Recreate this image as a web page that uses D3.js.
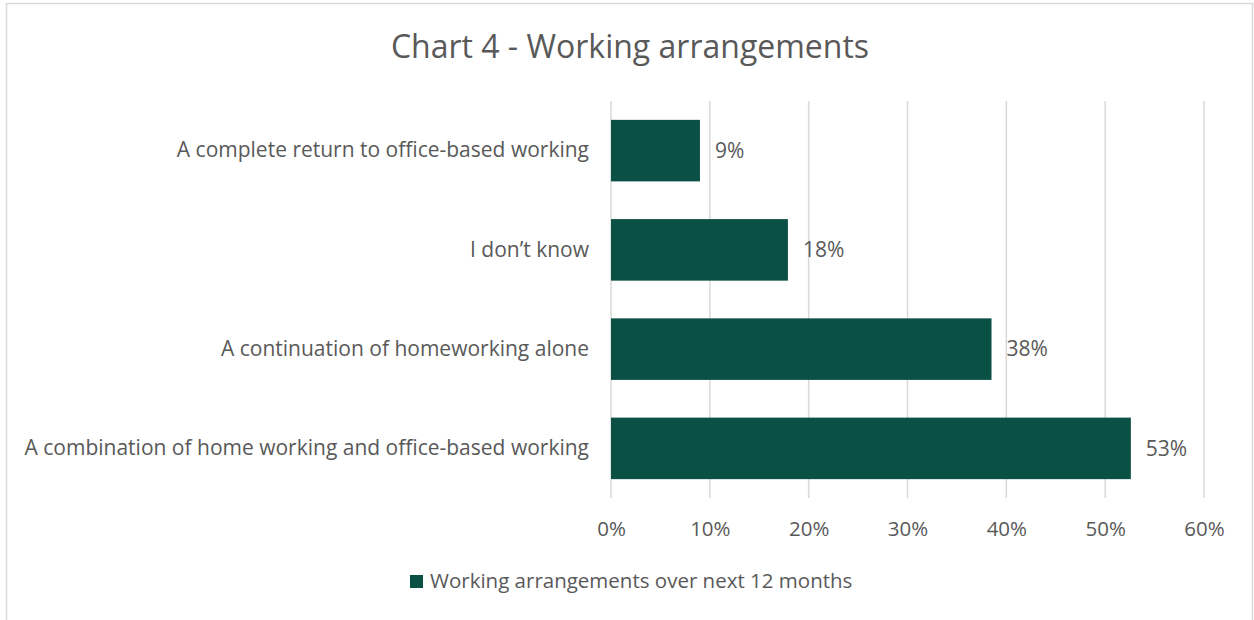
<!DOCTYPE html>
<html>
<head>
<meta charset="utf-8">
<script src="https://cdn.jsdelivr.net/npm/d3@7"></script>
<style>
  body { margin: 0; background: #fff; }
  text { font-family: "Open Sans", sans-serif; fill: #595959; }
</style>
</head>
<body>
<div id="chart"></div>
<script>
// chart data
var categories = [
  "A complete return to office-based working",
  "I don\u2019t know",
  "A continuation of homeworking alone",
  "A combination of home working and office-based working"
];
var values = [0.09, 0.179, 0.385, 0.526];
var valueLabels = ["9%", "18%", "38%", "53%"];
var xTicks = [0, 0.1, 0.2, 0.3, 0.4, 0.5, 0.6];
var seriesName = "Working arrangements over next 12 months";
var chartTitle = "Chart 4 - Working arrangements";

var svgWidth = 1254;
var svgHeight = 620;
var margin = { top: 101, right: 50, bottom: 122, left: 611 };
var width = 1204 - margin.left;
var height = 498 - margin.top;
var barColor = "#0b5045";

var svg = d3.select("#chart")
  .append("svg")
  .attr("width", svgWidth)
  .attr("height", svgHeight);

// outer frame
svg.append("rect")
  .attr("x", 6.5)
  .attr("y", 3.5)
  .attr("width", 1246)
  .attr("height", 640)
  .attr("fill", "none")
  .attr("stroke", "#d9d9d9")
  .attr("stroke-width", 1.5);

svg.append("text")
  .attr("x", 630)
  .attr("y", 58)
  .attr("text-anchor", "middle")
  .style("font-size", "32px")
  .text(chartTitle);

var chartGroup = svg.append("g")
  .attr("transform", `translate(${margin.left}, ${margin.top})`);

var xScale = d3.scaleLinear()
  .domain([0, 0.6])
  .range([0, width]);

var yScale = d3.scaleBand()
  .domain(categories)
  .range([0, height])
  .paddingInner(0.38)
  .paddingOuter(0.19);

// gridlines
chartGroup.selectAll(".grid")
  .data(xTicks)
  .enter()
  .append("line")
  .attr("x1", d => xScale(d))
  .attr("x2", d => xScale(d))
  .attr("y1", 0)
  .attr("y2", height)
  .attr("stroke", "#d9d9d9")
  .attr("stroke-width", 1.5);

// x axis tick labels
var bottomAxis = d3.axisBottom(xScale)
  .tickValues(xTicks)
  .tickFormat(d3.format(".0%"))
  .tickSize(0)
  .tickPadding(23);

var xAxis = chartGroup.append("g")
  .attr("transform", `translate(0, ${height})`)
  .call(bottomAxis);
xAxis.select(".domain").remove();
xAxis.selectAll("text")
  .style("font-size", "20.5px")
  .attr("fill", "#595959");

// category labels
var leftAxis = d3.axisLeft(yScale)
  .tickSize(0)
  .tickPadding(22);
var yAxis = chartGroup.append("g").call(leftAxis);
yAxis.select(".domain").remove();
yAxis.selectAll("text")
  .style("font-size", "21px")
  .attr("fill", "#595959");

// bars
chartGroup.selectAll(".bar")
  .data(values)
  .enter()
  .append("rect")
  .attr("x", 0)
  .attr("y", (d, i) => yScale(categories[i]))
  .attr("width", d => xScale(d))
  .attr("height", yScale.bandwidth())
  .attr("fill", barColor);

// value labels
chartGroup.selectAll(".val")
  .data(values)
  .enter()
  .append("text")
  .attr("x", d => xScale(d) + 15)
  .attr("y", (d, i) => yScale(categories[i]) + yScale.bandwidth() / 2)
  .attr("dy", "0.35em")
  .style("font-size", "21px")
  .text((d, i) => valueLabels[i]);

// legend
var legend = svg.append("g")
  .attr("transform", "translate(410, 581)");
legend.append("rect")
  .attr("x", 0)
  .attr("y", -6)
  .attr("width", 13)
  .attr("height", 13)
  .attr("fill", barColor);
legend.append("text")
  .attr("x", 20)
  .attr("y", 0)
  .attr("dy", "0.35em")
  .style("font-size", "20.5px")
  .text(seriesName);
</script>
</body>
</html>
